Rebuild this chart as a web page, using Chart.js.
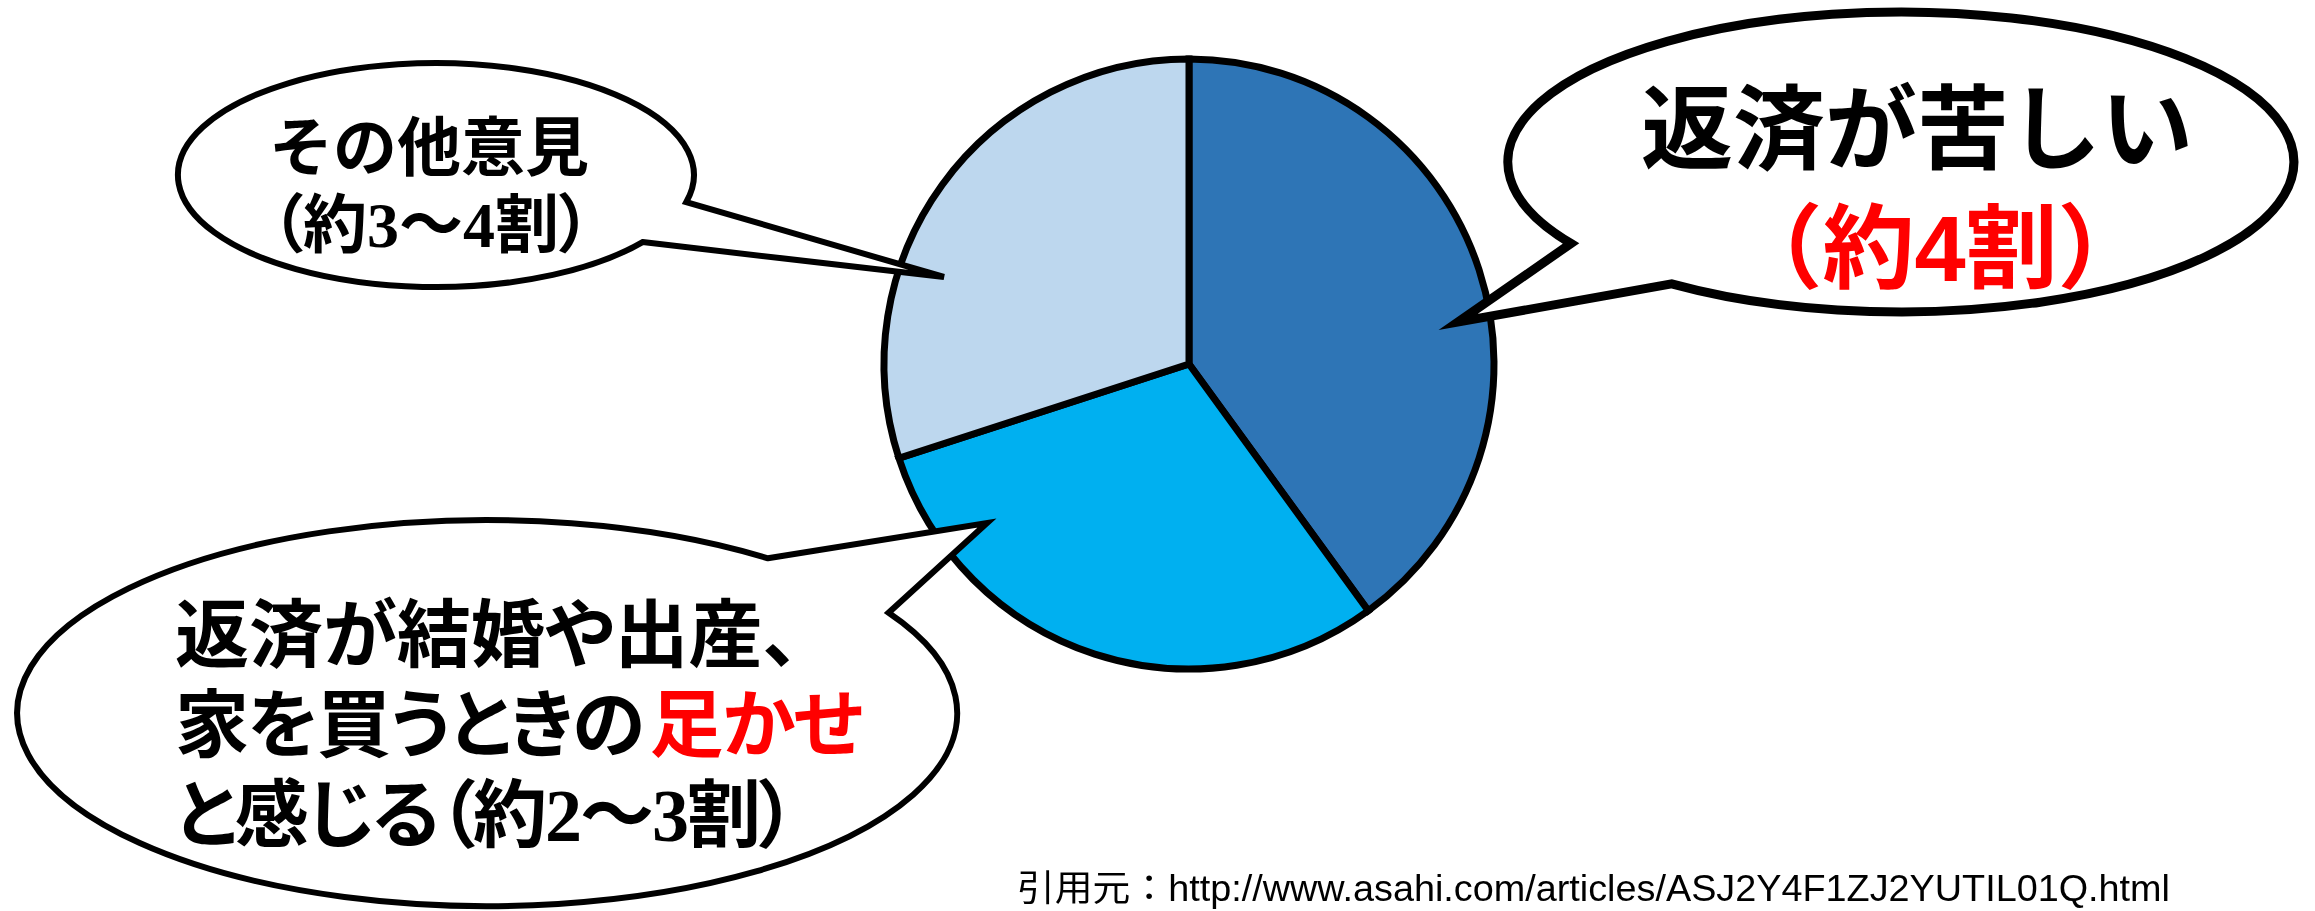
<!DOCTYPE html>
<html lang="ja">
<head>
<meta charset="utf-8">
<title>奨学金の返済についての意見</title>
<script src="https://cdn.jsdelivr.net/npm/chart.js@4.4.1/dist/chart.umd.min.js"></script>
<style>
  html, body { margin: 0; padding: 0; background: #fff; }
  #stage { position: relative; width: 2315px; height: 911px; overflow: hidden; }
  #pieBox { position: absolute; left: 869px; top: 44px; width: 640px; height: 640px; }
  #notes { position: absolute; left: 0; top: 0; }
  #notes .src { font-family: "Liberation Sans", "Noto Sans CJK JP", sans-serif; font-weight: 400; }
  .ln {
    position: absolute; white-space: nowrap; color: #000;
    font-family: "Liberation Serif", "Noto Sans CJK JP", serif; font-weight: 700;
  }
  .mid { width: 800px; text-align: center; }
  .palt { font-feature-settings: "palt" 1; }
  .red { color: #ff0000; display: inline-block; }
  /* bubble text sizes: top-left / right / bottom-left */
  .tl { font-size: 64px; line-height: 76px; height: 76px; }
  .rt { font-size: 92px; line-height: 118px; height: 118px; font-family: "Liberation Sans", "Noto Sans CJK JP", sans-serif; }
  .bl { font-size: 74px; line-height: 89px; height: 89px; left: 175px; }
</style>
</head>
<body>
<div id="stage">
  <div id="pieBox"><canvas id="pie" width="640" height="640"></canvas></div>
  <svg id="notes" width="2315" height="911" viewBox="0 0 2315 911">
    <g id="bubbles"></g>
    <text class="src" x="1017" y="901" font-size="36" textLength="1153" lengthAdjust="spacingAndGlyphs" fill="#000">引用元：http://www.asahi.com/articles/ASJ2Y4F1ZJ2YUTIL01Q.html</text>
  </svg>

  <!-- その他意見 -->
  <div class="ln mid tl" style="left: 29px; top: 111px;">その他意見</div>
  <div class="ln mid tl palt" style="left: 31px; top: 188px;">（約3～4割）</div>

  <!-- 返済が苦しい -->
  <div class="ln mid rt" style="left: 1517px; top: 71px;">返済が苦しい</div>
  <div class="ln mid rt" style="left: 1540px; top: 190px; color: #ff0000;">（約4割）</div>

  <!-- 足かせ -->
  <div class="ln bl palt" style="top: 592px;">返済が結婚や出産、</div>
  <div class="ln bl palt" style="top: 682px; letter-spacing: -1.5px;">家を買うときの<span class="red" style="margin-left: 6px;">足かせ</span></div>
  <div class="ln bl palt" style="top: 772px; letter-spacing: -2px;">と感じる（約2～3割）</div>
</div>
<script>
// pie data (percent of respondents)
const labels = ['返済が苦しい', '返済が結婚や出産、家を買うときの足かせと感じる', 'その他意見'];
const shares = [40, 30, 30];
const sliceColors = ['#2E75B6', '#00B0F0', '#BDD7EE'];

const ctx = document.getElementById('pie');
const pieChart = new Chart(ctx, {
    type: 'pie',
    data: {
        labels,
        datasets: [{
            data: shares,
            backgroundColor: sliceColors,
            borderColor: '#000',
            borderWidth: 7,
            borderJoinStyle: 'miter',
            radius: 305
        }]
    },
    options: {
        responsive: false,
        animation: false,
        layout: { padding: 0 },
        plugins: {
            legend: { display: false },
            tooltip: { enabled: false }
        }
    }
});

// speech bubbles: ellipse + tail (tail leaves the ellipse at angle "from", comes back at "to")
const bubbles = [
    { cx: 436, cy: 175, rx: 258, ry: 112, from: 36.8, to: 14, sweep: 0, tip: [944, 277], width: 6, miter: 4 },
    { cx: 1901, cy: 162, rx: 393, ry: 150, from: 147.1, to: 125.7, sweep: 0, tip: [1458, 322], width: 9, miter: 10 },
    { cx: 487, cy: 713, rx: 470, ry: 193, from: -53.3, to: -31.3, sweep: 1, tip: [987, 523], width: 6, miter: 4 }
];

function pt(b, deg) {
    const r = deg * Math.PI / 180;
    return [(b.cx + b.rx * Math.cos(r)).toFixed(1), (b.cy + b.ry * Math.sin(r)).toFixed(1)];
}

function bubblePath(b) {
    const p = pt(b, b.from);
    const q = pt(b, b.to);
    return `M${p} L${b.tip} L${q} A${b.rx},${b.ry} 0 1,${b.sweep} ${p} Z`;
}

const layer = document.getElementById('bubbles');
bubbles.forEach(b => {
    const path = document.createElementNS('http://www.w3.org/2000/svg', 'path');
    path.setAttribute('d', bubblePath(b));
    path.setAttribute('fill', '#fff');
    path.setAttribute('stroke', '#000');
    path.setAttribute('stroke-width', b.width);
    path.setAttribute('stroke-linejoin', 'miter');
    path.setAttribute('stroke-miterlimit', b.miter);
    layer.appendChild(path);
});
</script>
</body>
</html>
